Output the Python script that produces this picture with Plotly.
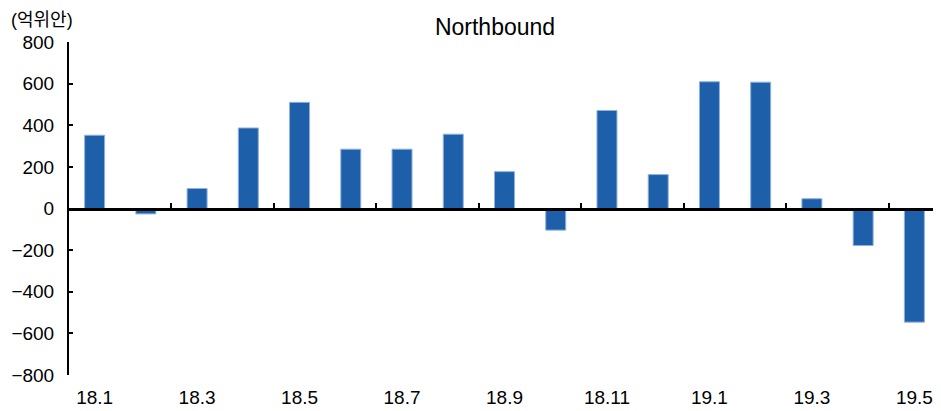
import plotly.graph_objects as go

categories = ["18.1", "18.2", "18.3", "18.4", "18.5", "18.6", "18.7", "18.8", "18.9",
              "18.10", "18.11", "18.12", "19.1", "19.2", "19.3", "19.4", "19.5"]
values = [352, -26, 96, 387, 510, 285, 285, 357, 177, -104, 471, 163, 609, 607, 47, -178, -546]
tick_labels = categories[::2]
y_ticks = [-800, -600, -400, -200, 0, 200, 400, 600, 800]

FONT = "Liberation Sans, Noto Sans CJK KR, sans-serif"

# page body has an 8px margin, so the figure is sized to fit the remaining window
W, H = 933, 403

fig = go.Figure()
fig.add_trace(go.Bar(
    x=categories, y=values,
    marker=dict(color="#1d5fa8", line=dict(color="#8fb1de", width=1)),
    showlegend=False, hoverinfo="x+y",
))
# helper (empty) trace so the zero-line tick axis is drawn
fig.add_trace(go.Scatter(x=[], y=[], xaxis="x2", showlegend=False))

n = len(categories)
fig.update_layout(
    width=W, height=H,
    margin=dict(l=61, r=1, t=34, b=36, autoexpand=False),
    paper_bgcolor="white", plot_bgcolor="white",
    font=dict(family=FONT, color="black", size=19),
    bargap=0.61,
    title=dict(text="Northbound", x=487 / W, xanchor="center", y=1 - 19 / H, yref="container",
               yanchor="middle", font=dict(family=FONT, size=23, color="black")),
    xaxis=dict(type="category", range=[-0.5, n - 0.5], tickmode="array",
               tickvals=tick_labels, ticktext=tick_labels, ticks="", showline=False,
               showgrid=False, zeroline=False, tickfont=dict(size=19), ticklabelstandoff=9,
               automargin=False),
    xaxis2=dict(overlaying="x", anchor="free", position=0.5, type="linear",
                range=[-0.5, n - 0.5], tickmode="array",
                tickvals=[i + 0.5 for i in range(1, n - 1, 2)],
                ticks="inside", ticklen=5, tickwidth=1.5, tickcolor="black",
                showticklabels=False, showline=True, linecolor="black", linewidth=2.5,
                showgrid=False, zeroline=False, automargin=False),
    yaxis=dict(range=[-800, 800], tickmode="array", tickvals=y_ticks,
               ticks="inside", ticklen=4, tickwidth=1.5, tickcolor="black",
               showline=True, linecolor="black", linewidth=2, showgrid=False,
               zeroline=False, tickfont=dict(size=19), ticklabelstandoff=9,
               automargin=False),
)
fig.add_annotation(text="(억위안)", xref="paper", yref="paper", x=(2 - 61) / (W - 62), y=1.0,
                   xanchor="left", yanchor="bottom", yshift=11, showarrow=False,
                   borderpad=0,
                   font=dict(family=FONT, size=18, color="black"))

fig.write_html("out.html")
